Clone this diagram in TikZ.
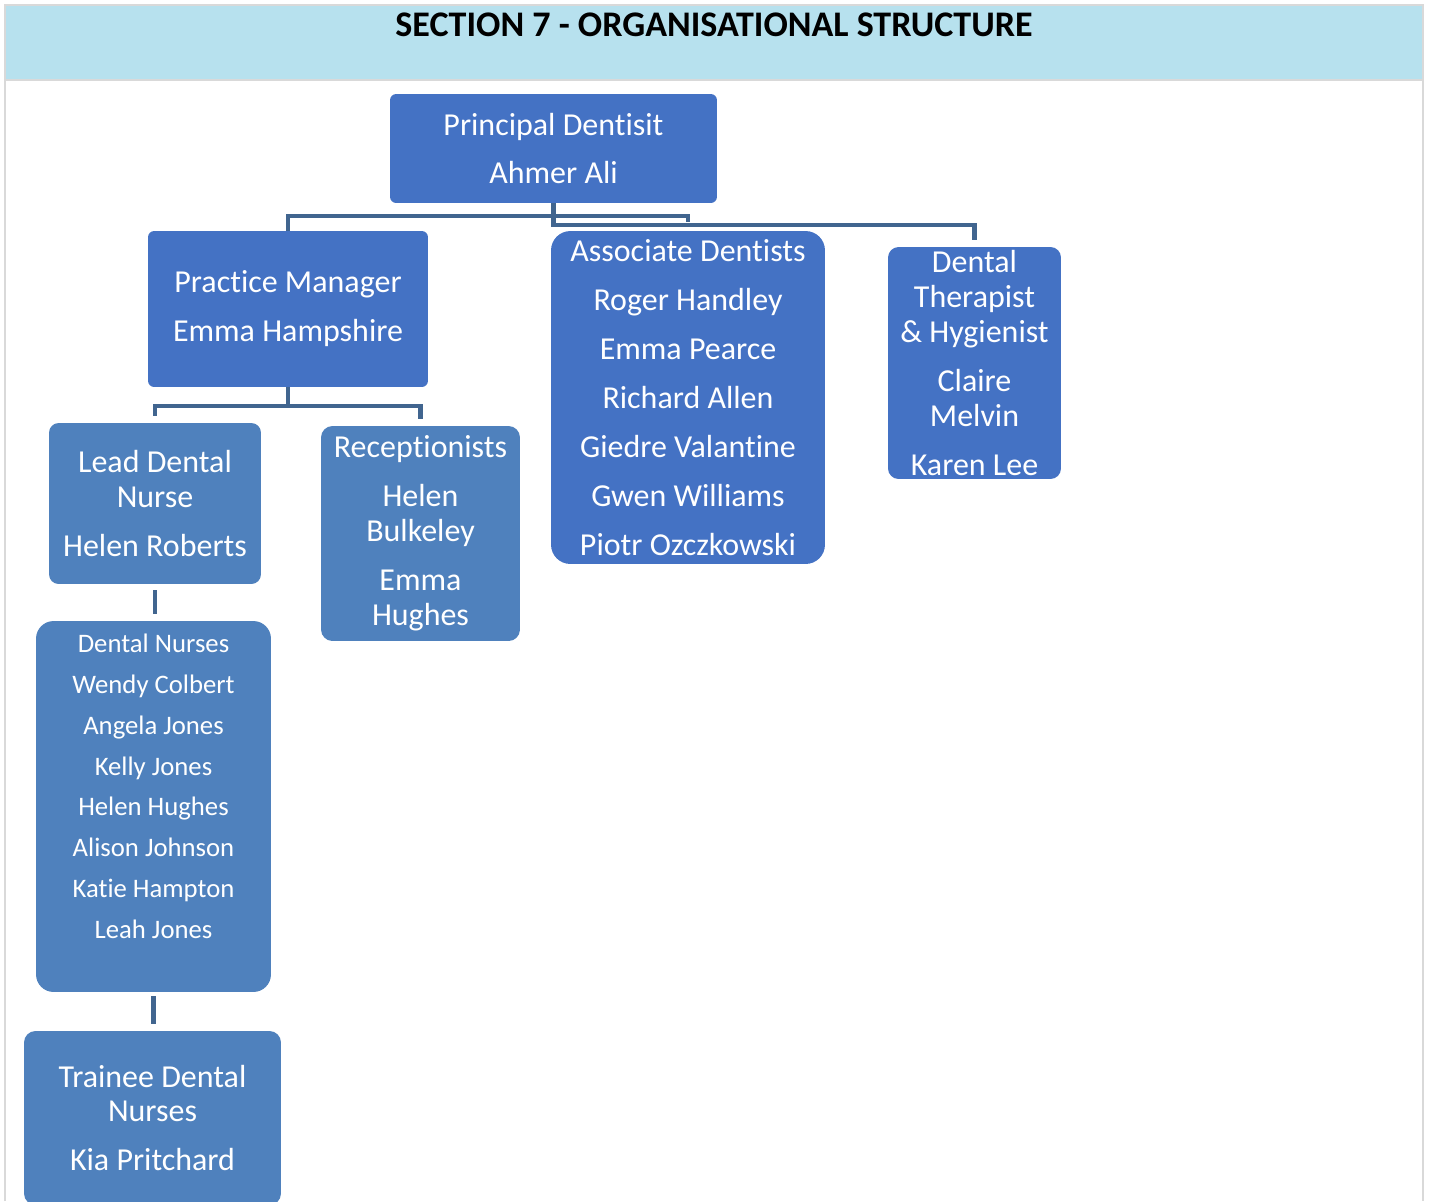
\documentclass[tikz,border=0pt]{standalone}
\usepackage{fontspec}
\setmainfont{Carlito}[Ligatures=NoCommon]
\usepackage{tikz}
\usetikzlibrary{calc}
\definecolor{hdrblue}{HTML}{B7E1EE}
\definecolor{topblue}{HTML}{4472C4}
\definecolor{lowblue}{HTML}{4F81BD}
\definecolor{linkblue}{HTML}{41658F}
\definecolor{framegray}{HTML}{D9D9D9}
\newcommand{\rolefont}{\fontsize{18.2}{19.85}\selectfont}
\tikzstyle{rolebox} = [fill=topblue, text=white, align=center,
inner sep=0pt, rounded corners=3.5pt, font=\rolefont]
\tikzstyle{staffbox} = [rolebox, fill=lowblue]
\tikzstyle{link} = [draw=linkblue, line width=2.3pt]

\begin{document}
\begin{tikzpicture}[x=0.02cm, y=-0.02cm]
    \useasboundingbox (0,0) rectangle (1429,1201);
    \clip (0,0) rectangle (1429,1201);
    % header band
    \fill[hdrblue] (5,5) rectangle (1423,80);
    \draw[framegray, line width=0.8pt] (5,1201) -- (5,5) -- (1423,5) -- (1423,1201);
    \draw[framegray, line width=0.8pt] (5,80) -- (1423,80);
    \node[font=\bfseries\fontsize{20.5}{24}\selectfont] (title) at (714,25)
        {SECTION 7 - ORGANISATIONAL STRUCTURE};

    % boxes
    \node[rolebox, minimum width=6.54cm, minimum height=2.18cm] (pd) at (553.5,148.5)
        {Principal Dentisit\\[8pt] Ahmer Ali};
    \node[rolebox, minimum width=5.6cm, minimum height=3.12cm] (pm) at (288,309)
        {Practice Manager\\[8pt] Emma Hampshire};
    \node[rolebox, rounded corners=11pt, minimum width=5.48cm, minimum height=6.66cm] (ad) at (688,397.5)
        {Associate Dentists\\[8pt] Roger Handley\\[8pt] Emma Pearce\\[8pt] Richard Allen\\[8pt]
         Giedre Valantine\\[8pt] Gwen Williams\\[8pt] Piotr Ozczkowski};
    \node[rolebox, rounded corners=6pt, minimum width=3.46cm, minimum height=4.64cm] (th) at (974.5,363)
        {Dental\\ Therapist\\ \& Hygienist\\[8pt] Claire\\ Melvin\\[8pt] Karen Lee};
    \node[staffbox, rounded corners=5.5pt, minimum width=4.24cm, minimum height=3.22cm] (ln) at (155,503.5)
        {Lead Dental\\ Nurse\\[8pt] Helen Roberts};
    \node[staffbox, rounded corners=6.5pt, minimum width=3.98cm, minimum height=4.3cm] (rc) at (420.5,533.5)
        {Receptionists\\[8pt] Helen\\ Bulkeley\\[8pt] Emma\\ Hughes};
    \node[staffbox, rounded corners=10pt, minimum width=4.7cm, minimum height=7.42cm,
        font=\fontsize{15.2}{23.2}\selectfont] (dn) at (153.5,806.5)
        {Dental Nurses\\ Wendy Colbert\\ Angela Jones\\ Kelly Jones\\ Helen Hughes\\
         Alison Johnson\\ Katie Hampton\\ Leah Jones\\ ~};
    \node[staffbox, rounded corners=6.5pt, minimum width=5.14cm, minimum height=3.48cm] (tr) at (152.5,1118)
        {Trainee Dental\\ Nurses\\[8pt] Kia Pritchard};

    % connectors
    \coordinate (j1) at ($(pd.south)+(0,13)$);
    \coordinate (j2) at ($(pd.south)+(0,22)$);
    \coordinate (j3) at ($(pm.south)+(0,19)$);
    \draw[link] (pd.south) -- (j2) -| ($(th.north)+(0,-7)$);
    \draw[link] (pm.north) |- (j1) -| ($(ad.north)+(0,-9)$);
    \draw[link] (pm.south) -- (j3) -| ($(ln.north)+(0,-7)$);
    \draw[link] (j3) -| ($(rc.north)+(0,-7)$);
    \draw[link] ($(ln.south)+(0,6)$) -- ($(ln.south |- dn.north)+(0,-7)$);
    \draw[link] ($(dn.south)+(0,4)$) -- ($(dn.south |- tr.north)+(0,-7)$);
\end{tikzpicture}
\end{document}
